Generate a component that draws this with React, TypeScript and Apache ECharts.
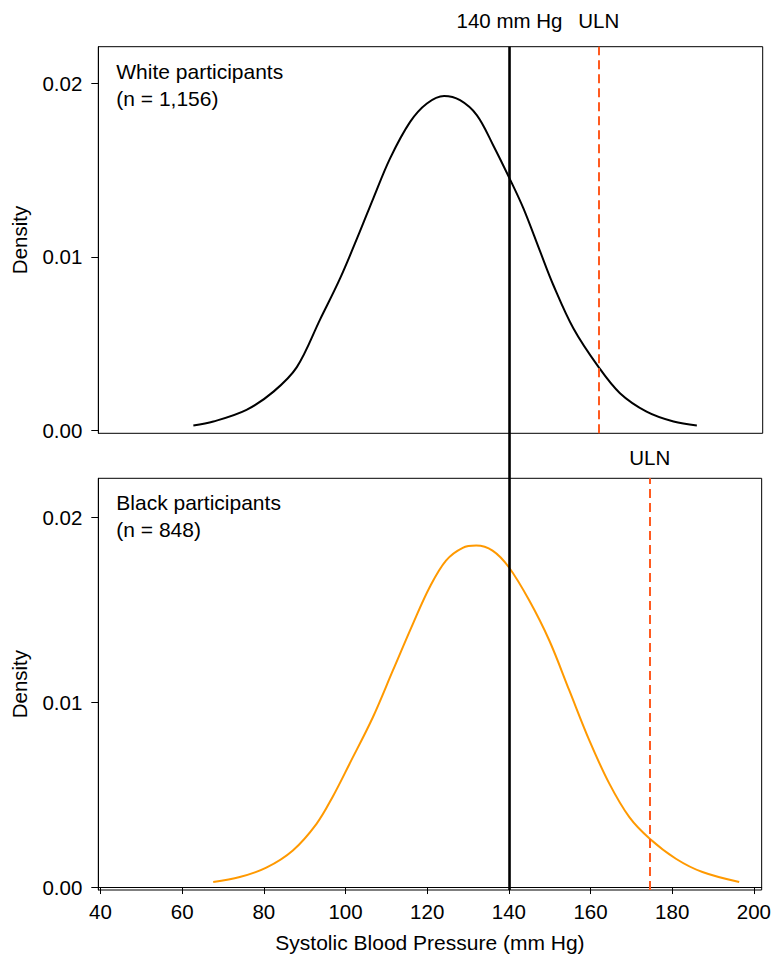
import React, { useEffect, useRef } from "react";
import * as echarts from "echarts";

// White participants density curve (x: mm Hg, y: density)
const whiteX = [62.7, 67.6, 75.7, 82.3, 88.0, 93.7, 98.6, 103.4, 106.7, 110.8, 115.7, 119.8, 124.0, 127.9, 132.0, 136.0, 140.0, 143.4, 147.5, 150.7, 155.6, 161.7, 167.0, 173.5, 180.1, 185.8];
const whiteY = [0.00029, 0.00052, 0.00119, 0.00224, 0.00365, 0.0064, 0.00877, 0.01145, 0.01337, 0.01567, 0.01777, 0.01883, 0.01926, 0.01902, 0.01816, 0.01643, 0.01452, 0.01279, 0.0103, 0.00838, 0.00589, 0.00368, 0.00215, 0.00109, 0.00052, 0.00029];

// Black participants density curve
const blackX = [67.6, 74.1, 80.6, 87.1, 92.9, 96.9, 101.0, 106.7, 111.6, 116.5, 120.6, 124.6, 128.7, 132.0, 136.0, 140.0, 145.0, 149.9, 154.8, 159.7, 164.6, 169.5, 174.5, 180.9, 187.4, 196.4];
const blackY = [0.00027, 0.00054, 0.00105, 0.00198, 0.00342, 0.0049, 0.00667, 0.00918, 0.01171, 0.01423, 0.01621, 0.01765, 0.01834, 0.01846, 0.01819, 0.01729, 0.01549, 0.01333, 0.01063, 0.00793, 0.00559, 0.00378, 0.00261, 0.00153, 0.00081, 0.00027];

const xTicks = [40, 60, 80, 100, 120, 140, 160, 180, 200];
const yTicks = [0, 0.01, 0.02];
const threshold = 140;
const ulnWhite = 161.8;
const ulnBlack = 174.5;
const panelLabels = ["White participants\n(n = 1,156)", "Black participants\n(n = 848)"];

const X_MIN = 39.46;
const X_MAX = 201.9;
const Y_MIN = -0.00016;
const Y_MAX = 0.0221;
const FONT = "'Liberation Sans', Arial, Helvetica, sans-serif";

export default function App() {
  const ref = useRef<HTMLDivElement>(null);
  useEffect(() => {
    if (!ref.current) return;
    const chart = echarts.init(ref.current, null, { renderer: "svg", width: 774, height: 956 });
    const grids = [
      { left: 98.3, top: 46.7, width: 664.4, height: 386.6 },
      { left: 98.3, top: 478.3, width: 664.4, height: 411.7 },
    ];
    const mkY = (i: number) => ({
      type: "value",
      gridIndex: i,
      min: Y_MIN,
      max: Y_MAX,
      name: "Density",
      nameLocation: "middle",
      nameGap: 68,
      nameTextStyle: { fontSize: 20.5, color: "#000", fontFamily: FONT },
      axisLine: { show: true, lineStyle: { color: "#000", width: 1 } },
      axisTick: { show: true, length: 7, customValues: yTicks, lineStyle: { color: "#000", width: 1 } },
      axisLabel: {
        show: true,
        customValues: yTicks,
        margin: 16,
        fontSize: 20.5,
        color: "#000",
        fontFamily: FONT,
        formatter: (v: number) => v.toFixed(2),
      },
      splitLine: { show: false },
    });
    const mkDash = (v: number) => ({
      silent: true,
      symbol: "none",
      label: { show: false },
      lineStyle: { color: "#FF5A1F", type: [9, 5], width: 2 },
      data: [{ xAxis: v }],
    });
    const option: any = {
      animation: false,
      backgroundColor: "#fff",
      grid: grids.map((g) => ({ ...g, show: true, borderColor: "#000", borderWidth: 1, backgroundColor: "transparent" })),
      xAxis: [
        {
          type: "value",
          gridIndex: 0,
          min: X_MIN,
          max: X_MAX,
          axisLine: { show: false },
          axisTick: { show: false },
          axisLabel: { show: false },
          splitLine: { show: false },
        },
        {
          type: "value",
          gridIndex: 1,
          min: X_MIN,
          max: X_MAX,
          name: "Systolic Blood Pressure (mm Hg)",
          nameLocation: "middle",
          nameGap: 42,
          nameTextStyle: { fontSize: 21, color: "#000", fontFamily: FONT },
          axisLine: { show: true, lineStyle: { color: "#000", width: 1 } },
          axisTick: { show: true, length: 7, customValues: xTicks, lineStyle: { color: "#000", width: 1 } },
          axisLabel: { show: true, customValues: xTicks, margin: 11, fontSize: 20.5, color: "#000", fontFamily: FONT },
          splitLine: { show: false },
        },
      ],
      yAxis: [mkY(0), mkY(1)],
      series: [
        {
          type: "line",
          xAxisIndex: 0,
          yAxisIndex: 0,
          data: whiteX.map((x, i) => [x, whiteY[i]]),
          smooth: 0.35,
          showSymbol: false,
          lineStyle: { color: "#000", width: 2 },
          markLine: mkDash(ulnWhite),
        },
        {
          type: "line",
          xAxisIndex: 1,
          yAxisIndex: 1,
          data: blackX.map((x, i) => [x, blackY[i]]),
          smooth: 0.35,
          showSymbol: false,
          lineStyle: { color: "#FF9900", width: 2 },
          markLine: mkDash(ulnBlack),
        },
      ],
    };
    chart.setOption(option);

    const px140 = chart.convertToPixel({ xAxisIndex: 0 }, threshold) as number;
    const pxU1 = chart.convertToPixel({ xAxisIndex: 0 }, ulnWhite) as number;
    const pxU2 = chart.convertToPixel({ xAxisIndex: 1 }, ulnBlack) as number;
    const yTop = chart.convertToPixel({ yAxisIndex: 0 }, Y_MAX) as number;
    const yBot = chart.convertToPixel({ yAxisIndex: 1 }, Y_MIN) as number;
    const yTop2 = chart.convertToPixel({ yAxisIndex: 1 }, Y_MAX) as number;
    const labelStyle = { fontSize: 20.5, fill: "#000", fontFamily: FONT };
    const panelStyle = { fontSize: 21, fill: "#000", fontFamily: FONT };
    chart.setOption({
      graphic: [
        {
          type: "line",
          silent: true,
          z: 10,
          shape: { x1: px140, y1: yTop, x2: px140, y2: yBot },
          style: { stroke: "#000", lineWidth: 2.6 },
        },
        {
          type: "text",
          x: px140,
          y: yTop - 26,
          style: { ...labelStyle, text: "140 mm Hg", align: "center", verticalAlign: "middle" },
        },
        {
          type: "text",
          x: pxU1,
          y: yTop - 26,
          style: { ...labelStyle, text: "ULN", align: "center", verticalAlign: "middle" },
        },
        {
          type: "text",
          x: pxU2,
          y: yTop2 - 21,
          style: { ...labelStyle, text: "ULN", align: "center", verticalAlign: "middle" },
        },
        {
          type: "text",
          x: grids[0].left + 18,
          y: grids[0].top + 11,
          style: { ...panelStyle, text: panelLabels[0], lineHeight: 27 },
        },
        {
          type: "text",
          x: grids[1].left + 18,
          y: grids[1].top + 11,
          style: { ...panelStyle, text: panelLabels[1], lineHeight: 27 },
        },
      ],
    });
    return () => chart.dispose();
  }, []);
  return <div ref={ref} style={{ position: "fixed", left: 0, top: 0, width: 774, height: 956 }} />;
}
